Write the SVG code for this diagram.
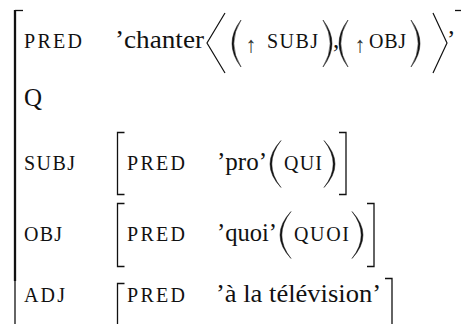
<svg xmlns="http://www.w3.org/2000/svg" width="461" height="324" viewBox="0 0 461 324">
<rect width="461" height="324" fill="#fff"/>
<g id="main-bracket" fill="none" stroke="#111">
<path stroke-width="1.3" d="M15 10.5H23"/>
<path stroke-width="2.3" d="M15 10V281"/>
<path stroke-width="1.3" d="M15 281V324"/>
<path stroke-width="1.3" d="M455 10.5H461"/>
</g>
<g id="pred">
<text x="24" y="48" font-family="Liberation Serif" font-size="20" fill="#111" textLength="58" lengthAdjust="spacing">PRED</text>
<text x="115" y="48" font-family="Liberation Serif" font-size="25" fill="#111" textLength="89" lengthAdjust="spacingAndGlyphs">&#8217;chanter</text>
<path fill="none" stroke="#111" stroke-width="1.2" d="M225 13L207 43L225 73M433 13L447 43L433 73"/>
<path fill="#111" stroke="#111" stroke-width="0.5" d="M241 20Q223 43.5 241 67Q226.6 43.5 241 20ZM323 20Q341 43.5 323 67Q337.4 43.5 323 20ZM348 20Q330 43.5 348 67Q333.6 43.5 348 20ZM411 20Q429 43.5 411 67Q425.4 43.5 411 20Z"/>
<text x="251" y="52" font-family="Liberation Serif" font-size="22" fill="#333" text-anchor="middle">&#8593;</text>
<text x="267" y="48" font-family="Liberation Serif" font-size="20" fill="#111" textLength="51" lengthAdjust="spacing">SUBJ</text>
<text x="333" y="48" font-family="Liberation Serif" font-size="25" fill="#111">,</text>
<text x="360" y="52" font-family="Liberation Serif" font-size="22" fill="#333" text-anchor="middle">&#8593;</text>
<text x="369" y="48" font-family="Liberation Serif" font-size="20" fill="#111" textLength="37" lengthAdjust="spacing">OBJ</text>
<text x="447" y="48" font-family="Liberation Serif" font-size="25" fill="#111">&#8217;</text>
</g>
<g id="q">
<text x="24" y="106" font-family="Liberation Serif" font-size="25" fill="#111">Q</text>
</g>
<g id="subj">
<text x="24" y="170" font-family="Liberation Serif" font-size="20" fill="#111" textLength="51" lengthAdjust="spacing">SUBJ</text>
<path fill="none" stroke="#111" stroke-width="1.3" d="M124.5 132.5H117.5V194.5H124.5M339 132.5H346V194.5H339"/>
<text x="127" y="170" font-family="Liberation Serif" font-size="20" fill="#111" textLength="58" lengthAdjust="spacing">PRED</text>
<text x="217" y="170" font-family="Liberation Serif" font-size="25" fill="#111" textLength="50" lengthAdjust="spacingAndGlyphs">&#8217;pro&#8217;</text>
<path fill="#111" stroke="#111" stroke-width="0.5" d="M281 140.5Q259 164 281 187.5Q262.6 164 281 140.5ZM324 140.5Q346 164 324 187.5Q342.4 164 324 140.5Z"/>
<text x="284" y="170" font-family="Liberation Serif" font-size="20" fill="#111" textLength="38" lengthAdjust="spacing">QUI</text>
</g>
<g id="obj">
<text x="24" y="241" font-family="Liberation Serif" font-size="20" fill="#111" textLength="38" lengthAdjust="spacing">OBJ</text>
<path fill="none" stroke="#111" stroke-width="1.3" d="M124.5 203.5H117.5V266.5H124.5M367 203.5H374V266.5H367"/>
<text x="127" y="241" font-family="Liberation Serif" font-size="20" fill="#111" textLength="58" lengthAdjust="spacing">PRED</text>
<text x="217" y="241" font-family="Liberation Serif" font-size="25" fill="#111" textLength="60" lengthAdjust="spacingAndGlyphs">&#8217;quoi&#8217;</text>
<path fill="#111" stroke="#111" stroke-width="0.5" d="M291 211.5Q269 235 291 258.5Q272.6 235 291 211.5ZM352 211.5Q374 235 352 258.5Q370.4 235 352 211.5Z"/>
<text x="294" y="241" font-family="Liberation Serif" font-size="20" fill="#111" textLength="55" lengthAdjust="spacing">QUOI</text>
</g>
<g id="adj">
<text x="24" y="302" font-family="Liberation Serif" font-size="20" fill="#111" textLength="41" lengthAdjust="spacing">ADJ</text>
<path fill="none" stroke="#111" stroke-width="1.3" d="M124.5 283.5H117.5V324M385 278.5H392V324"/>
<text x="127" y="302" font-family="Liberation Serif" font-size="20" fill="#111" textLength="58" lengthAdjust="spacing">PRED</text>
<text x="216" y="302" font-family="Liberation Serif" font-size="25" fill="#111" textLength="165" lengthAdjust="spacingAndGlyphs">&#8217;&#224; la t&#233;l&#233;vision&#8217;</text>
</g>
<g id="connectors"></g>
</svg>
